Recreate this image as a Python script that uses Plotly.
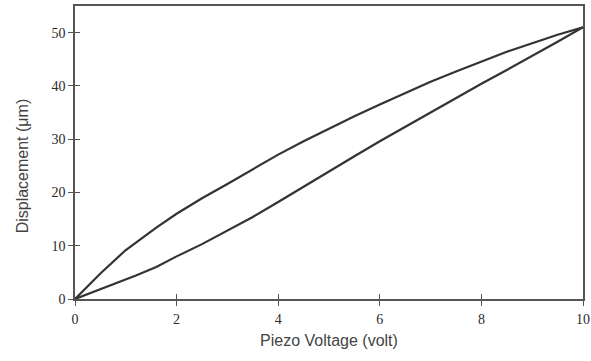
import plotly.graph_objects as go

# Piezo actuator hysteresis loop: displacement vs. applied voltage
voltage = [0, 0.5, 1.0, 1.2, 1.6, 2.0, 2.5, 3.0, 3.5, 4.0, 4.5, 5.0, 5.5, 6.0,
           6.5, 7.0, 7.5, 8.0, 8.5, 9.0, 9.5, 10.0]

# descending branch (upper curve)
disp_down = [0, 4.8, 9.2, 10.6, 13.4, 16.0, 18.9, 21.6, 24.4, 27.1, 29.6, 32.0,
             34.3, 36.5, 38.7, 40.8, 42.7, 44.6, 46.4, 48.0, 49.6, 51.0]

# ascending branch (lower curve)
disp_up = [0, 1.8, 3.6, 4.4, 6.0, 8.0, 10.3, 12.8, 15.4, 18.2, 21.1, 24.0,
           26.8, 29.6, 32.3, 35.0, 37.8, 40.4, 43.0, 45.6, 48.3, 51.0]

x_ticks = [0, 2, 4, 6, 8, 10]
y_ticks = [0, 10, 20, 30, 40, 50]

line_col = "#333333"
axis_col = "#555555"
tick_font = dict(family="Liberation Serif", size=14, color="#2a2a2a")
title_font = dict(family="Liberation Sans", size=16, color="#444444")

fig = go.Figure()
fig.add_trace(go.Scatter(x=voltage, y=disp_down, mode="lines",
                         line=dict(color=line_col, width=2.2), showlegend=False))
fig.add_trace(go.Scatter(x=voltage, y=disp_up, mode="lines",
                         line=dict(color=line_col, width=2.2), showlegend=False))

common_x = dict(range=[0, 10], tickvals=x_ticks, showgrid=False, zeroline=False,
                showline=True, linecolor=axis_col, linewidth=1.5,
                tickcolor=axis_col, ticklen=5, tickwidth=1.2, automargin=False)
common_y = dict(range=[0, 55], tickvals=y_ticks, showgrid=False, zeroline=False,
                showline=True, linecolor=axis_col, linewidth=1.5,
                tickcolor=axis_col, ticklen=5, tickwidth=1.2, automargin=False)

fig.update_layout(
    width=591, height=361,
    margin=dict(l=75, r=8, t=6, b=62),
    paper_bgcolor="white", plot_bgcolor="white",
    xaxis=dict(**common_x, ticks="outside", mirror=True, tickfont=tick_font,
               ticklabeloverflow="allow", ticklabelstandoff=1),
    yaxis=dict(**common_y, ticks="outside", mirror=True, tickfont=tick_font,
               ticklabelstandoff=0),
    # overlay axes give the tick marks that cross the axis lines
    xaxis2=dict(**common_x, ticks="inside", overlaying="x", showticklabels=False,
                anchor="y"),
    yaxis2=dict(**common_y, ticks="inside", overlaying="y", showticklabels=False,
                anchor="x"),
    annotations=[
        dict(text="Piezo Voltage (volt)", xref="paper", yref="paper",
             x=0.5, y=-0.14, xanchor="center", yanchor="middle",
             showarrow=False, font=title_font),
        dict(text="Displacement (μm)", xref="paper", yref="paper",
             x=-0.103, y=0.455, xanchor="center", yanchor="middle",
             textangle=-90, showarrow=False, font=title_font),
    ],
)

# invisible trace to activate the overlay axes
fig.add_trace(go.Scatter(x=[None], y=[None], xaxis="x2", yaxis="y2",
                         showlegend=False, hoverinfo="skip"))

fig.write_html("out.html")
